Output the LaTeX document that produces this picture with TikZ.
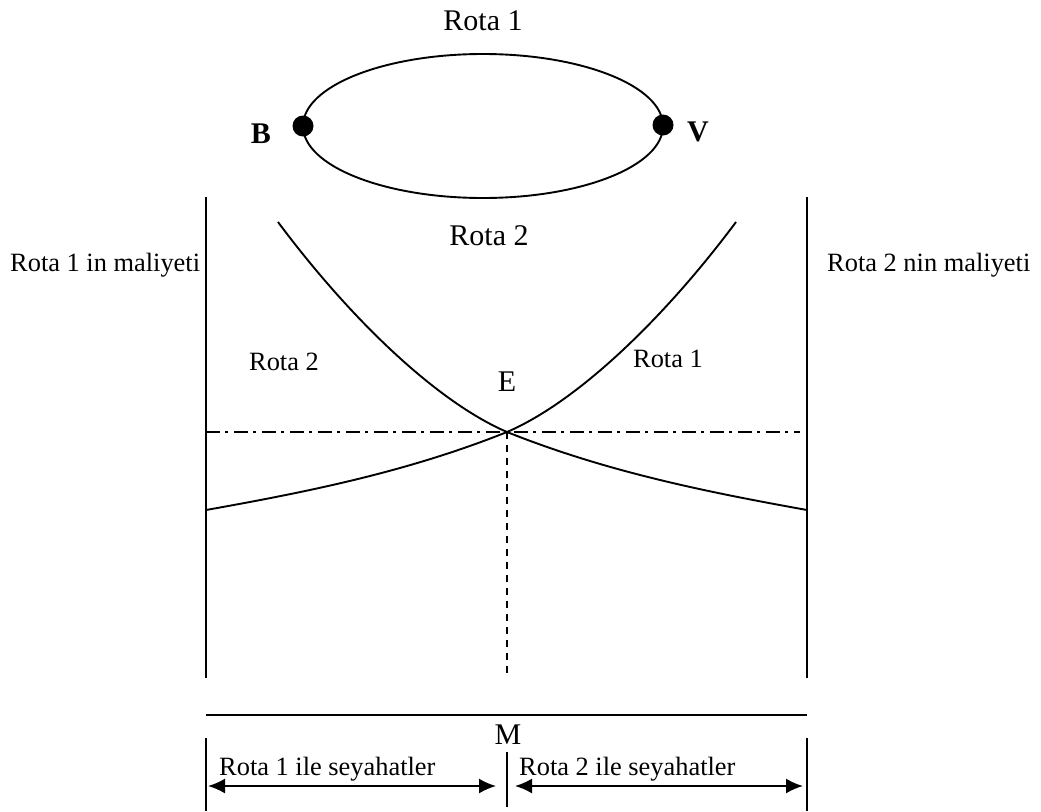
\documentclass[tikz,border=0pt]{standalone}
\usepackage{fontspec}
\setmainfont{Liberation Serif}
\usetikzlibrary{arrows.meta}
\begin{document}
\begin{tikzpicture}[x=1pt,y=-1pt,
  line/.style={line width=1.9pt},
  lbl/.style={inner sep=0pt, anchor=base, font=\fontsize{26.4}{30}\selectfont},
  big/.style={inner sep=0pt, anchor=base, font=\fontsize{30}{34}\selectfont},
  dotnode/.style={circle, fill=black, inner sep=0pt, minimum size=21pt},
  dashdot/.style={line width=1.9pt, dash pattern=on 14pt off 5pt on 3pt off 6pt},
  dsh/.style={line width=1.9pt, dash pattern=on 7pt off 6pt},
  dim/.style={line width=1.9pt, {Latex[length=17pt,width=15pt]}-{Latex[length=17pt,width=15pt]}}]
\useasboundingbox (0,0) rectangle (1041,811);
% top network
\node[big] (r1top) at (483,30) {Rota 1};
\draw[line] (483,126) ellipse [x radius=180pt, y radius=72pt];
\node[dotnode] (B) at (303,126) {};
\node[dotnode] (V) at (663,125) {};
\node[big, font=\fontsize{30}{34}\selectfont\bfseries] (Bl) at (261,143) {B};
\node[big, font=\fontsize{30}{34}\selectfont\bfseries] (Vl) at (698,141) {V};
\node[big] (r2top) at (489,245) {Rota 2};
% axes
\coordinate (ltop) at (206,197);
\coordinate (lbot) at (206,678);
\coordinate (rtop) at (807,197);
\coordinate (rbot) at (807,678);
\draw[line] (ltop) -- (lbot);
\draw[line] (rtop) -- (rbot);
\node[lbl, anchor=base west] (c1) at (10,271) {Rota 1 in maliyeti};
\node[lbl, anchor=base west] (c2) at (827,271) {Rota 2 nin maliyeti};
% curves
\coordinate (E) at (507,432);
\coordinate (d0) at (278,222);
\coordinate (d1) at (807,510);
\coordinate (u0) at (206,510);
\coordinate (u1) at (736,222);
\draw[line] (d0) .. controls (348,316) and (435,401) .. (E)
                 .. controls (607,472) and (707,492) .. (d1);
\draw[line] (u0) .. controls (307,492) and (407,472) .. (E)
                 .. controls (579,401) and (666,316) .. (u1);
\coordinate (hl) at (206,432);
\coordinate (hr) at (800,432);
\draw[dashdot] (hl) -- (hr);
\coordinate (vb) at (507,676);
\draw[dsh] (E) -- (vb);
\node[lbl] (r2lab) at (284,370) {Rota 2};
\node[lbl] (r1lab) at (668,367) {Rota 1};
\node[big] (Elab) at (507,391) {E};
% bottom
\coordinate (bl) at (206,715);
\coordinate (br) at (807,715);
\draw[line] (bl) -- (br);
\node[big] (M) at (508,744) {M};
\coordinate (t1a) at (206,738);
\coordinate (t1b) at (206,811);
\coordinate (t2a) at (507,752);
\coordinate (t2b) at (507,807);
\coordinate (t3a) at (807,738);
\coordinate (t3b) at (807,811);
\draw[line] (t1a) -- (t1b);
\draw[line] (t2a) -- (t2b);
\draw[line] (t3a) -- (t3b);
\coordinate (a1) at (208,786);
\coordinate (a2) at (496,786);
\coordinate (a3) at (515,786);
\coordinate (a4) at (803,786);
\draw[dim] (a1) -- (a2);
\draw[dim] (a3) -- (a4);
\node[lbl, anchor=base west] (s1) at (219,775) {Rota 1 ile seyahatler};
\node[lbl, anchor=base west] (s2) at (519,775) {Rota 2 ile seyahatler};
\end{tikzpicture}
\end{document}
